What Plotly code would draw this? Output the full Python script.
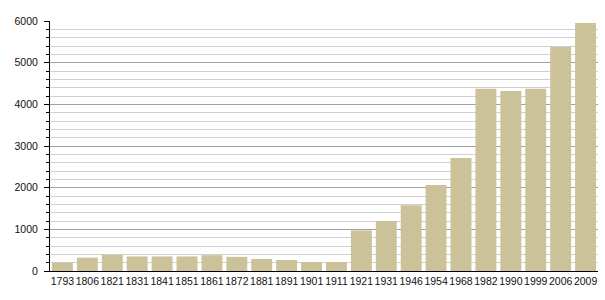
import plotly.graph_objects as go

years = ["1793", "1806", "1821", "1831", "1841", "1851", "1861", "1872", "1881", "1891",
         "1901", "1911", "1921", "1931", "1946", "1954", "1968", "1982", "1990", "1999",
         "2006", "2009"]
population = [200, 320, 390, 350, 350, 350, 380, 340, 290, 265,
              215, 215, 975, 1200, 1577, 2064, 2712, 4375, 4320, 4375,
              5376, 5952]

fig = go.Figure(go.Bar(x=years, y=population, marker=dict(color="rgb(204,194,154)", line=dict(width=0))))

fig.update_layout(
    width=605, height=300,
    margin=dict(l=50, r=7, t=21, b=29),
    paper_bgcolor="white", plot_bgcolor="white",
    bargap=0.16,
    showlegend=False,
    font=dict(family="Liberation Sans, Arial, sans-serif", size=10.5, color="#111"),
)
fig.update_xaxes(
    type="category", showline=True, linecolor="black", linewidth=1,
    ticks="", showgrid=False, tickfont=dict(size=10.5), tickangle=0, automargin=False,
)
fig.update_yaxes(
    range=[0, 6000], dtick=1000, showline=True, linecolor="black", linewidth=1,
    ticks="outside", ticklen=5, tickcolor="black",
    showgrid=True, gridcolor="#a0a0a0", gridwidth=1,
    minor=dict(dtick=200, showgrid=True, gridcolor="#d0d0d0", ticks="outside", ticklen=3, tickcolor="black"),
    zeroline=False, tickfont=dict(size=10.5), automargin=False, ticklabelstandoff=4,
)

fig.write_html("out.html")
